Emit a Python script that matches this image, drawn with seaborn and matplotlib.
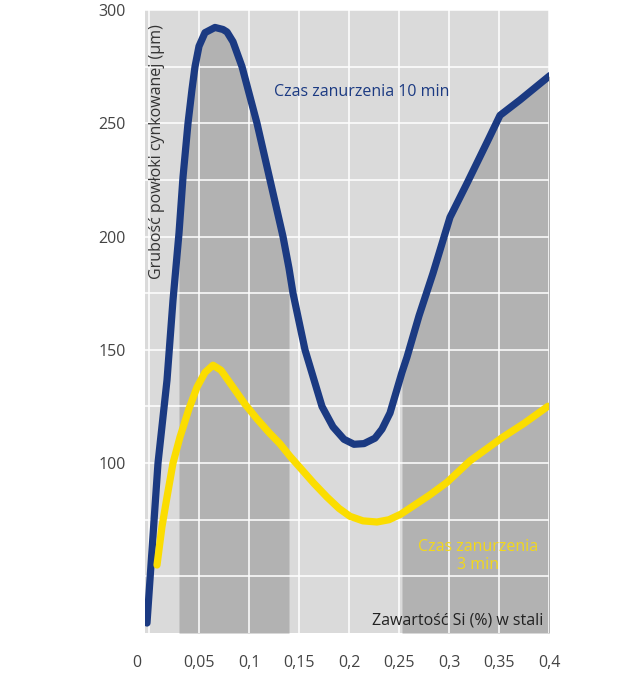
import numpy as np
import seaborn as sns
import matplotlib.pyplot as plt
import matplotlib.transforms as mtransforms
from matplotlib.ticker import FixedLocator

# values
si_10 = [-0.002, 0.009, 0.018, 0.024, 0.030, 0.034, 0.039, 0.043, 0.046, 0.050,
         0.056, 0.066, 0.074, 0.078, 0.084, 0.093, 0.108, 0.121, 0.134, 0.140,
         0.144, 0.156, 0.173, 0.184, 0.195, 0.205, 0.215, 0.226, 0.233, 0.241,
         0.253, 0.258, 0.270, 0.284, 0.301, 0.318, 0.339, 0.351, 0.371, 0.401]
thick_10 = [29.4, 100.0, 136.6, 171.9, 201.5, 226.2, 250.0, 265.0, 275.0, 284.0,
            290.0, 292.3, 291.4, 290.3, 286.0, 275.0, 250.0, 225.0, 200.0, 186.0,
            175.0, 150.0, 125.0, 116.0, 110.5, 108.3, 108.6, 111.0, 115.0, 122.1,
            140.1, 146.8, 165.0, 183.8, 208.5, 223.5, 242.5, 253.5, 260.3, 271.1]

si_3 = [0.008, 0.013, 0.018, 0.024, 0.031, 0.040, 0.048, 0.056, 0.064, 0.072,
        0.084, 0.096, 0.108, 0.120, 0.131, 0.141, 0.151, 0.165, 0.178, 0.190,
        0.201, 0.214, 0.228, 0.240, 0.252, 0.264, 0.281, 0.298, 0.321, 0.354,
        0.375, 0.399]
thick_3 = [55.0, 72.0, 85.0, 100.0, 111.5, 124.0, 133.5, 140.0, 143.2, 141.0,
           133.5, 126.0, 119.5, 113.5, 108.5, 103.0, 98.0, 91.0, 85.0, 80.0,
           76.5, 74.5, 74.0, 75.0, 77.5, 81.0, 86.0, 91.5, 101.0, 111.5,
           117.5, 125.1]

bands = [(0.030, 0.140), (0.253, 0.401)]
x_ticks = [0, 0.05, 0.1, 0.15, 0.2, 0.25, 0.3, 0.35, 0.4]
x_labels = ['0', '0,05', '0,1', '0,15', '0,2', '0,25', '0,3', '0,35', '0,4']
y_ticks = [100, 150, 200, 250, 300]
y_grid = [50, 75, 125, 175, 225, 275]

BLUE = '#1b3a82'
YELLOW = '#fbdd00'

sns.set_style('white')
plt.rcParams['font.family'] = ['Open Sans', 'DejaVu Sans']

fig = plt.figure(figsize=(6.31, 6.75), dpi=100)
ax = fig.add_axes([145 / 631, 1 - 633 / 675, 404 / 631, 623 / 675])
ax.set_facecolor('#dadada')

ymin = 25
x10 = np.array(si_10)
y10 = np.array(thick_10)
for lo, hi in bands:
    mask = (x10 >= lo - 1e-9) & (x10 <= hi + 1e-9)
    ax.fill_between(x10, ymin, y10, where=mask, color='#b2b2b2', lw=0)

sns.lineplot(x=si_10, y=thick_10, color=BLUE, linewidth=5.2, ax=ax,
             solid_capstyle='round', solid_joinstyle='round', zorder=3)
sns.lineplot(x=si_3, y=thick_3, color=YELLOW, linewidth=5.2, ax=ax,
             solid_capstyle='round', solid_joinstyle='round', zorder=3)

ax.set_xlim(-0.004, 0.4)
ax.set_ylim(ymin, 300)
ax.set_xticks(x_ticks)
ax.set_xticklabels(x_labels)
ax.set_yticks(y_ticks)
ax.yaxis.set_minor_locator(FixedLocator(y_grid))
ax.xaxis.set_minor_locator(FixedLocator([]))
ax.tick_params(axis='both', which='both', length=0, labelsize=11.5,
               labelcolor='#444444')
ax.tick_params(axis='x', pad=16)
ax.tick_params(axis='y', pad=14)
ax.set_axisbelow('line')
ax.grid(True, which='both', color='white', linewidth=1.1)
ax.set_xlabel('')
ax.set_ylabel('')
sns.despine(ax=ax, left=True, bottom=True)

# the "0" label sits a little left of its gridline in the original
first = ax.get_xticklabels()[0]
first.set_transform(first.get_transform() +
                    mtransforms.ScaledTranslation(-0.12, 0, fig.dpi_scale_trans))

ax.text(0.008, 237.6, 'Grubość powłoki cynkowanej (µm)', rotation=90,
        ha='center', va='center', fontsize=11.5, color='#333333')
ax.text(0.213, 264, 'Czas zanurzenia 10 min', ha='center', va='center',
        fontsize=11.5, color=BLUE)
ax.text(0.329, 59, 'Czas zanurzenia\n3 min', ha='center', va='center',
        fontsize=11.5, color='#f3d81a', linespacing=1.1)
ax.text(0.394, 30.7, 'Zawartość Si (%) w stali', ha='right', va='center',
        fontsize=11.5, color='#222222')

fig.savefig('out.png', dpi=100)
